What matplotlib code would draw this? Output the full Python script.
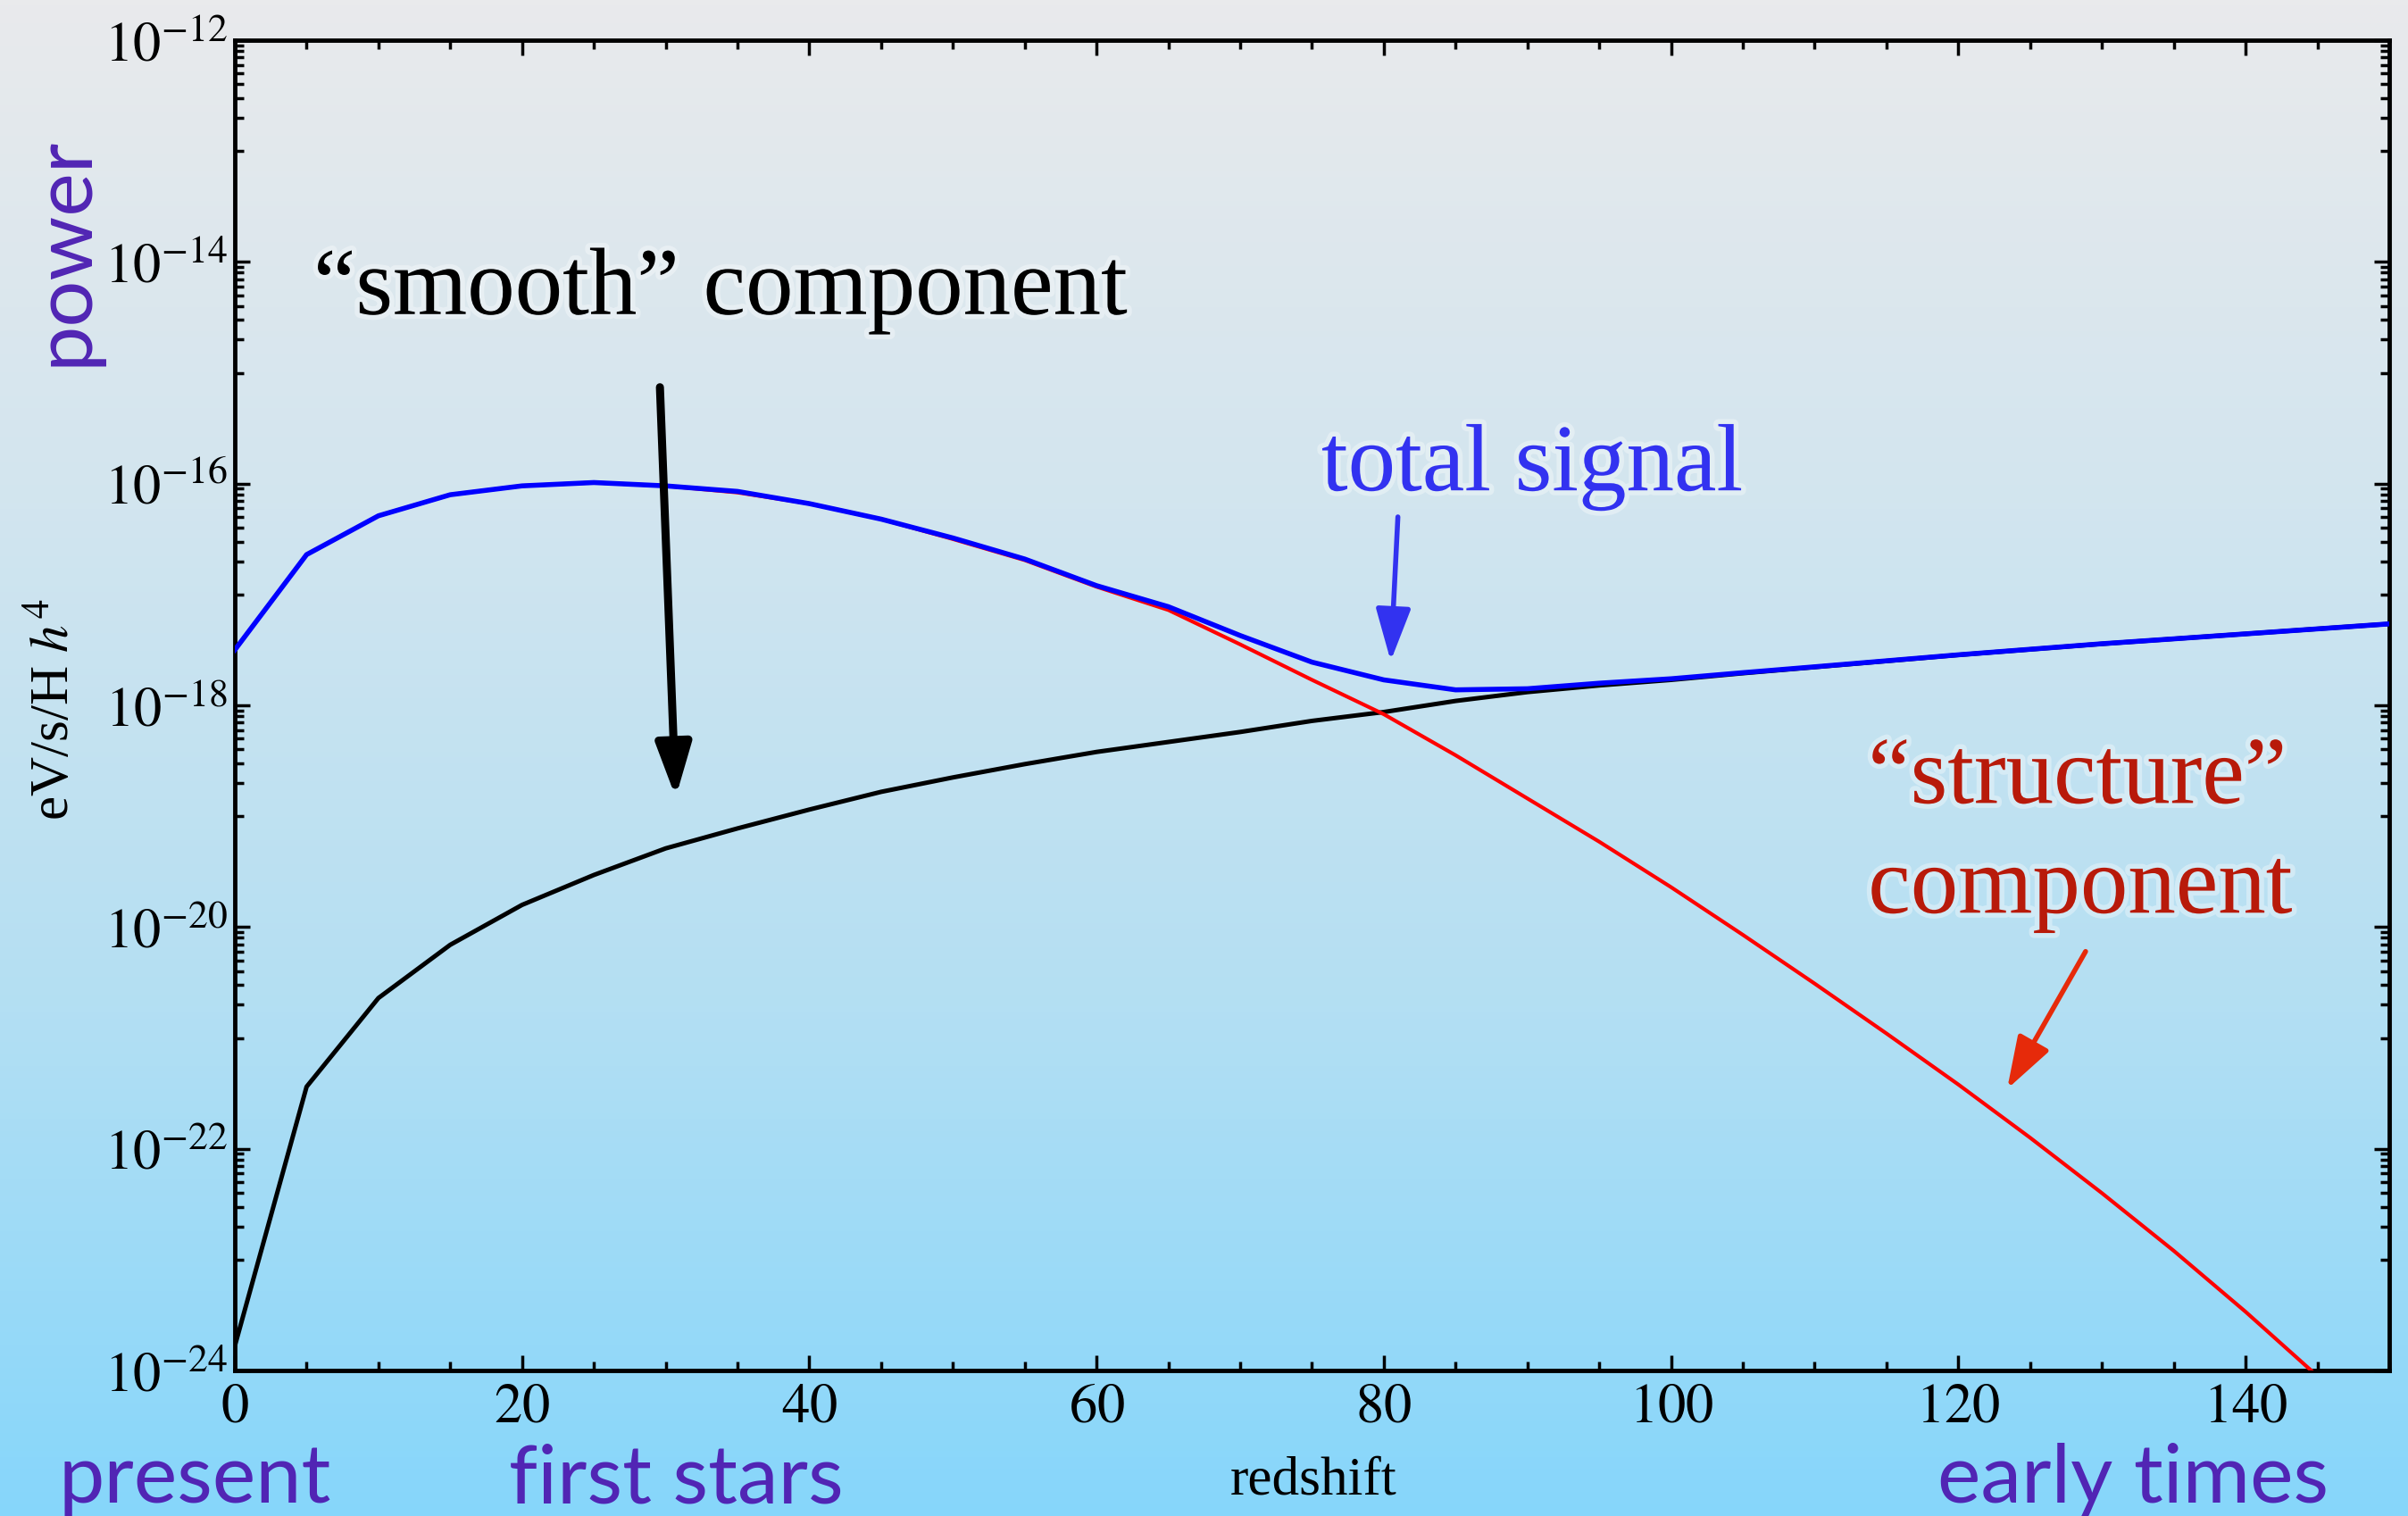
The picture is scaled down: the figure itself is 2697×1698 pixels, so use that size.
#!/usr/bin/env python3
"""Power vs redshift: smooth, structure and total signal on a log scale."""

import numpy as np
import matplotlib
matplotlib.use('Agg')
import matplotlib.pyplot as plt
import matplotlib.patheffects as pe
from matplotlib.colors import LinearSegmentedColormap
from matplotlib.ticker import FixedLocator, FuncFormatter, MultipleLocator

# redshift grid (every 5)
redshift = [0, 5, 10, 15, 20, 25, 30, 35, 40, 45, 50, 55, 60, 65, 70, 75,
            80, 85, 90, 95, 100, 105, 110, 115, 120, 125, 130, 135, 140, 145, 150]

# log10 of power in eV/s/H h^4
total_log = [-17.50, -16.64, -16.29, -16.10, -16.02, -15.99, -16.02, -16.07,
             -16.18, -16.32, -16.49, -16.68, -16.92, -17.11, -17.37, -17.61,
             -17.77, -17.86, -17.85, -17.80, -17.76, -17.705, -17.652, -17.598,
             -17.544, -17.494, -17.444, -17.40, -17.355, -17.31, -17.265]
smooth_log = [-23.78, -21.44, -20.64, -20.16, -19.80, -19.53, -19.29, -19.11,
              -18.94, -18.78, -18.65, -18.53, -18.42, -18.33, -18.24, -18.14,
              -18.06, -17.96, -17.88, -17.82, -17.77, -17.71, -17.655, -17.60,
              -17.545, -17.495, -17.445, -17.40, -17.355, -17.31, -17.265]
structure_log = [-17.50, -16.64, -16.29, -16.10, -16.02, -15.99, -16.02, -16.08,
                 -16.18, -16.32, -16.50, -16.69, -16.93, -17.14, -17.45, -17.77,
                 -18.08, -18.45, -18.84, -19.23, -19.64, -20.07, -20.51, -20.96,
                 -21.42, -21.90, -22.40, -22.92, -23.47, -24.05]

y_major_exp = [-24, -22, -20, -18, -16, -14, -12]
x_major = [0, 20, 40, 60, 80, 100, 120, 140]

PURPLE = '#5125b4'
SERIF = ['Liberation Serif', 'DejaVu Serif']
SANS = ['Lato', 'Liberation Sans', 'DejaVu Sans']

plt.rcParams['mathtext.fontset'] = 'stix'
plt.rcParams['font.family'] = SERIF


def background(fig):
    """Vertical grey-to-sky-blue gradient behind everything."""
    cmap = LinearSegmentedColormap.from_list(
        'slide', ['#e9eaec', '#d2e5ef', '#b3dff3', '#86d6fb'])
    bg = fig.add_axes([0, 0, 1, 1], zorder=0)
    grad = np.linspace(0, 1, 512).reshape(-1, 1)
    bg.imshow(grad, aspect='auto', cmap=cmap, extent=[0, 1, 0, 1])
    bg.set_axis_off()


def main():
    fig = plt.figure(figsize=(26.97, 16.99), dpi=100)
    background(fig)

    ax = fig.add_axes([0.0975, 0.0959, 0.8947, 0.877], zorder=1)
    ax.set_facecolor('none')

    z = np.array(redshift, dtype=float)
    ax.plot(z, 10.0 ** np.array(smooth_log), color='black', lw=3.6, zorder=3)
    ax.plot(z[:len(structure_log)], 10.0 ** np.array(structure_log),
            color='#ff0000', lw=3.0, zorder=4)
    ax.plot(z, 10.0 ** np.array(total_log), color='#0000ff', lw=4.0, zorder=5)

    ax.set_yscale('log')
    ax.set_xlim(0, 150)
    ax.set_ylim(1e-24, 1e-12)

    # ticks: majors every 2 decades, minors only in the decade below each major
    ax.yaxis.set_major_locator(FixedLocator([10.0 ** e for e in y_major_exp]))
    minor = [k * 10.0 ** (e - 1) for e in y_major_exp[1:] for k in range(1, 10)]
    ax.yaxis.set_minor_locator(FixedLocator(minor))
    ax.yaxis.set_major_formatter(
        FuncFormatter(lambda v, p: r'$10^{%d}$' % round(np.log10(v))))
    ax.yaxis.set_minor_formatter(FuncFormatter(lambda v, p: ''))
    ax.xaxis.set_major_locator(FixedLocator(x_major))
    ax.xaxis.set_minor_locator(MultipleLocator(5))
    ax.xaxis.set_major_formatter(FuncFormatter(lambda v, p: r'$%d$' % v))

    ax.tick_params(which='both', direction='in', top=True, right=True,
                   color='black', width=2.5)
    ax.tick_params(which='major', length=12, labelsize=45)
    ax.tick_params(which='minor', length=7)
    ax.tick_params(axis='x', pad=9)
    ax.tick_params(axis='y', pad=6)
    for s in ax.spines.values():
        s.set_linewidth(3.5)
        s.set_color('black')

    glow = [pe.withStroke(linewidth=8, foreground='white', alpha=0.35)]

    # annotations
    ax.text(5.47, 10 ** -14.47, '\u201csmooth\u201d component', fontsize=77,
            color='black', family=SERIF, va='baseline', ha='left',
            path_effects=glow, zorder=6)
    ax.text(75.65, 10 ** -16.06, 'total signal', fontsize=77, color='#3232f0',
            family=SERIF, va='baseline', ha='left', path_effects=glow, zorder=6)
    ax.text(128.3, 10 ** -18.88, '\u201cstructure\u201d', fontsize=77,
            color='#b81a0a', family=SERIF, va='baseline', ha='center',
            path_effects=glow, zorder=6)
    ax.text(128.5, 10 ** -19.87, 'component', fontsize=77, color='#b81a0a',
            family=SERIF, va='baseline', ha='center', path_effects=glow, zorder=6)

    arrows = [
        ((29.6, -15.13), (30.7, -18.83), 'black', 6.5),
        ((80.98, -16.30), (80.48, -17.60), '#3232f0', 4.0),
        ((128.86, -20.22), (123.4, -21.46), '#e62a0a', 4.0),
    ]
    for (x0, y0), (x1, y1), col, lw in arrows:
        ax.annotate('', xy=(x1, 10 ** y1), xytext=(x0, 10 ** y0),
                    arrowprops=dict(arrowstyle='-|>,head_length=0.9,head_width=0.3',
                                    color=col, lw=lw, mutation_scale=40,
                                    shrinkA=0, shrinkB=0),
                    zorder=7)

    # axis labels and slide captions
    fig.text(0.023, 0.532, r'eV/s/H $h^4$', rotation=90, fontsize=44,
             ha='center', va='center', family=SERIF, zorder=2)
    fig.text(0.5454, 0.0153, 'redshift', fontsize=44, ha='center',
             va='baseline', family=SERIF, zorder=2)
    fig.text(0.0268, 0.8346, 'power', rotation=90, fontsize=66, color=PURPLE,
             ha='center', va='center', family=SANS, zorder=2)
    for xf, label in [(0.081, 'present'), (0.2808, 'first stars'),
                      (0.886, 'early times')]:
        fig.text(xf, 0.0094, label, fontsize=66, color=PURPLE, ha='center',
                 va='baseline', family=SANS, zorder=2)

    fig.savefig('out.png', dpi=100)


if __name__ == '__main__':
    main()
